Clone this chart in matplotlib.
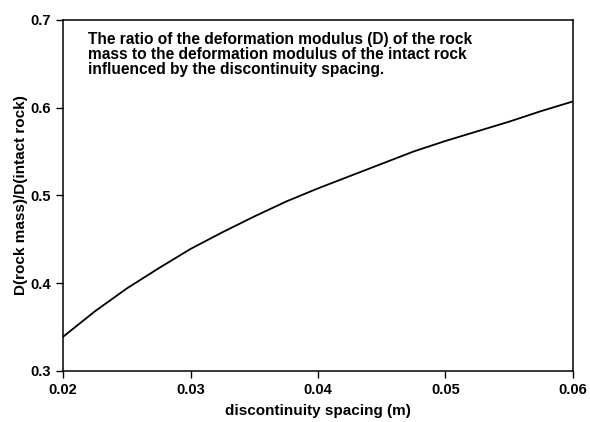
import matplotlib.pyplot as plt

# discontinuity spacing (m) and modulus ratio D(rock mass)/D(intact rock)
spacing = [0.02, 0.0225, 0.025, 0.0275, 0.03, 0.0325, 0.035, 0.0375, 0.04,
           0.0425, 0.045, 0.0475, 0.05, 0.0525, 0.055, 0.0575, 0.06]
ratio = [0.339, 0.368, 0.394, 0.417, 0.439, 0.458, 0.476, 0.493, 0.508,
         0.522, 0.536, 0.550, 0.562, 0.573, 0.584, 0.596, 0.607]

xticks = [0.02, 0.03, 0.04, 0.05, 0.06]
yticks = [0.3, 0.4, 0.5, 0.6, 0.7]

plt.rcParams['font.family'] = ['Liberation Sans', 'DejaVu Sans']
plt.rcParams['font.weight'] = 'bold'

fig = plt.figure(figsize=(5.9, 4.22), dpi=100)
ax = fig.add_axes([0.107, 0.121, 0.864, 0.832])
ax.plot(spacing, ratio, color='black', linewidth=1.3)

ax.set_xlim(0.02, 0.06)
ax.set_ylim(0.3, 0.7)
ax.set_xticks(xticks)
ax.set_xticklabels([f'{t:.2f}' for t in xticks])
ax.set_yticks(yticks)
ax.set_yticklabels([f'{t:.1f}' for t in yticks])
ax.tick_params(direction='out', length=5, width=1, labelsize=10.5)
for s in ax.spines.values():
    s.set_linewidth(1.1)

ax.set_xlabel('discontinuity spacing (m)', fontsize=11, fontweight='bold', labelpad=5)
ax.set_ylabel('D(rock mass)/D(intact rock)', fontsize=11, fontweight='bold', labelpad=2)

ax.text(0.049, 0.966,
        'The ratio of the deformation modulus (D) of the rock\n'
        'mass to the deformation modulus of the intact rock\n'
        'influenced by the discontinuity spacing.',
        transform=ax.transAxes, ha='left', va='top', fontsize=11.2,
        fontweight='bold', linespacing=1.02)

fig.savefig('out.png', dpi=100)
